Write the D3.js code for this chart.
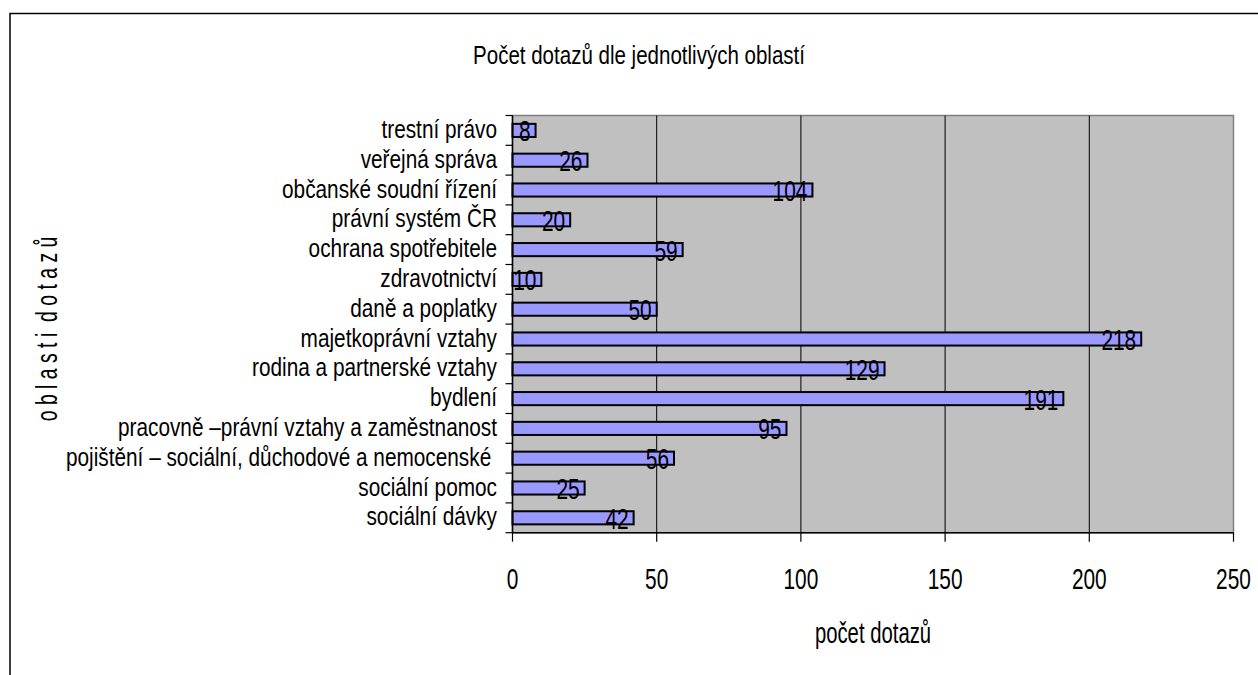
<!DOCTYPE html>
<html><head><meta charset="utf-8">
<script src="https://cdn.jsdelivr.net/npm/d3@7/dist/d3.min.js"></script>
<style>body{margin:0;background:#fff}svg{display:block}text{font-family:"Liberation Sans",Arial,sans-serif;fill:#000}</style>
</head><body>
<svg id="c" width="1258" height="675"></svg>
<script>
const categories = ["trestní právo","veřejná správa","občanské soudní řízení","právní systém ČR","ochrana spotřebitele","zdravotnictví","daně a poplatky","majetkoprávní vztahy","rodina a partnerské vztahy","bydlení","pracovně –právní vztahy a zaměstnanost","pojištění – sociální, důchodové a nemocenské ","sociální pomoc","sociální dávky"];
const values = [8,26,104,20,59,10,50,218,129,191,95,56,25,42];
const xTicks = [0,50,100,150,200,250];
const title = "Počet dotazů dle jednotlivých oblastí";
const xTitle = "počet dotazů";
const yTitle = "o b l a s t i  d o t a z ů";

const svg = d3.select("#c");
const L = 512.5, R = 1233.5, T = 115.5, B = 532.7;

// outer frame
svg.append("rect").attr("x",10).attr("y",13.5).attr("width",1300).attr("height",700)
  .attr("fill","#fff").attr("stroke","#000").attr("stroke-width",1.5);

const x = d3.scaleLinear().domain([0,250]).range([L,R]);
const yOuter = d3.scaleBand().domain(categories).range([T,B]).padding(0);
const y = d3.scaleBand().domain(categories).range([T,B]).paddingInner(0.56).paddingOuter(0.28);

function ctext(g, str, tx, ty, size, k, anchor, rot){
  return g.append("text")
    .attr("transform", `translate(${tx},${ty})` + (rot ? ` rotate(${rot})` : "") + ` scale(${k},1)`)
    .attr("text-anchor", anchor).attr("font-size", size)
    .style("white-space","pre").text(str);
}

// plot area
svg.append("rect").attr("x",L).attr("y",T).attr("width",R-L).attr("height",B-T)
  .attr("fill","#c0c0c0").attr("stroke","#808080").attr("stroke-width",1.5);

// gridlines
svg.append("g").selectAll("line").data(xTicks.filter(v=>v>0&&v<250)).join("line")
  .attr("x1",d=>x(d)).attr("x2",d=>x(d)).attr("y1",T).attr("y2",B)
  .attr("stroke","#000").attr("stroke-width",1);

// bars
svg.append("g").selectAll("rect").data(values).join("rect")
  .attr("x",x(0)).attr("y",(d,i)=>y(categories[i]))
  .attr("width",d=>x(d)-x(0)).attr("height",y.bandwidth())
  .attr("fill","#9999ff").attr("stroke","#000").attr("stroke-width",2);

// axes lines
svg.append("line").attr("x1",L).attr("x2",L).attr("y1",T).attr("y2",B).attr("stroke","#000").attr("stroke-width",1.5);
svg.append("line").attr("x1",L).attr("x2",R).attr("y1",B).attr("y2",B).attr("stroke","#000").attr("stroke-width",1.5);

// y ticks at band boundaries
const bounds = categories.map(c=>yOuter(c)).concat([yOuter(categories[categories.length-1])+yOuter.bandwidth()]);
svg.append("g").selectAll("line").data(bounds).join("line")
  .attr("x1",L-7).attr("x2",L).attr("y1",d=>d).attr("y2",d=>d).attr("stroke","#000").attr("stroke-width",1.2);

// x ticks
svg.append("g").selectAll("line").data(xTicks).join("line")
  .attr("x1",d=>x(d)).attr("x2",d=>x(d)).attr("y1",B).attr("y2",B+9).attr("stroke","#000").attr("stroke-width",1.2);

const gt = svg.append("g");
xTicks.forEach(v=>ctext(gt, String(v), x(v), 589, 29, 0.72, "middle"));

// category labels
const gc = svg.append("g");
categories.forEach(c=>ctext(gc, c, 497, y(c)+y.bandwidth()/2+7.5, 26, 0.80, "end"));

// data labels
const gd = svg.append("g");
values.forEach((v,i)=>ctext(gd, String(v), x(v)-5, y(categories[i])+y.bandwidth()/2+11, 29, 0.72, "end"));

// titles
ctext(svg, title, 639, 64, 26, 0.79, "middle");
ctext(svg, xTitle, 873, 643, 29, 0.70, "middle");
ctext(svg, yTitle, 56.7, 329, 29, 0.67, "middle", -90);
</script>
</body></html>
